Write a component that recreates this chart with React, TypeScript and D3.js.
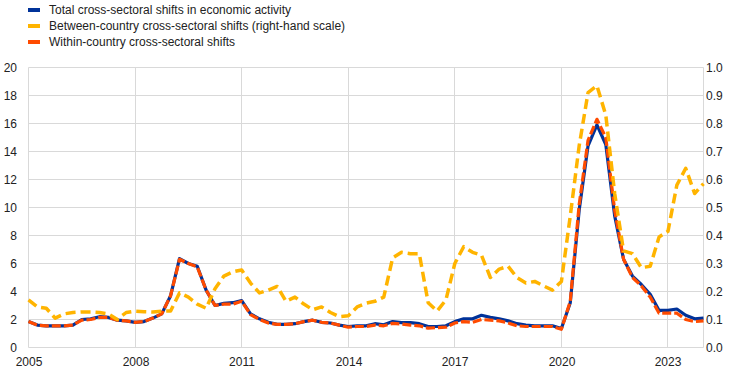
import React from 'react';
import * as d3 from 'd3';

// quarterly observations, 2005 Q1 to 2024 Q1
const startYear = 2005;
const yearTicks = [2005, 2008, 2011, 2014, 2017, 2020, 2023];
const leftTicks = [0, 2, 4, 6, 8, 10, 12, 14, 16, 18, 20];
const rightTicks = [0, 0.1, 0.2, 0.3, 0.4, 0.5, 0.6, 0.7, 0.8, 0.9, 1.0];

const total = [
  1.85, 1.6, 1.55, 1.55, 1.55, 1.6, 2.0, 2.05, 2.2, 2.15,
  1.95, 1.9, 1.8, 1.85, 2.1, 2.4, 3.7, 6.35, 6.0, 5.8,
  4.1, 3.0, 3.15, 3.2, 3.35, 2.4, 2.05, 1.8, 1.65, 1.65,
  1.7, 1.85, 1.95, 1.8, 1.75, 1.6, 1.5, 1.55, 1.55, 1.7,
  1.62, 1.85, 1.78, 1.78, 1.7, 1.5, 1.5, 1.55, 1.85, 2.05,
  2.05, 2.3, 2.15, 2.05, 1.9, 1.7, 1.6, 1.55, 1.55, 1.55,
  1.35, 3.2, 9.8, 14.4, 15.9, 14.5, 9.4, 6.3, 5.1, 4.5,
  3.8, 2.65, 2.65, 2.75, 2.3, 2.05, 2.1,
];

const within = [
  1.85, 1.6, 1.55, 1.55, 1.55, 1.6, 1.95, 2.0, 2.15, 2.15,
  1.95, 1.9, 1.8, 1.85, 2.1, 2.4, 3.7, 6.3, 6.0, 5.75,
  4.1, 3.0, 3.1, 3.1, 3.3, 2.35, 2.0, 1.75, 1.65, 1.65,
  1.7, 1.85, 1.95, 1.8, 1.75, 1.6, 1.45, 1.5, 1.5, 1.6,
  1.55, 1.72, 1.68, 1.6, 1.55, 1.38, 1.42, 1.45, 1.75, 1.85,
  1.8, 2.0, 1.95, 1.9, 1.75, 1.55, 1.5, 1.5, 1.5, 1.5,
  1.3, 3.3, 10.2, 14.8, 16.3, 15.0, 9.8, 6.3, 5.0, 4.4,
  3.6, 2.45, 2.45, 2.45, 2.0, 1.85, 1.9,
];

const between = [
  0.17, 0.145, 0.14, 0.105, 0.12, 0.125, 0.127, 0.127, 0.125, 0.12,
  0.1, 0.125, 0.13, 0.128, 0.127, 0.13, 0.13, 0.195, 0.18, 0.155,
  0.14, 0.21, 0.255, 0.27, 0.277, 0.23, 0.195, 0.205, 0.218, 0.165,
  0.18, 0.155, 0.135, 0.145, 0.125, 0.11, 0.113, 0.145, 0.158, 0.165,
  0.18, 0.32, 0.34, 0.335, 0.335, 0.16, 0.13, 0.17, 0.3, 0.36,
  0.34, 0.33, 0.25, 0.28, 0.29, 0.25, 0.23, 0.236, 0.22, 0.205,
  0.236, 0.47, 0.72, 0.91, 0.935, 0.83, 0.55, 0.345, 0.335, 0.285,
  0.29, 0.395, 0.415, 0.58, 0.64, 0.55, 0.585,
];

const legendItems = [
  { label: 'Total cross-sectoral shifts in economic activity', color: '#003299' },
  { label: 'Between-country cross-sectoral shifts (right-hand scale)', color: '#FFB400' },
  { label: 'Within-country cross-sectoral shifts', color: '#FF4B00' },
];

const W = 745;
const H = 375;
const font = '"Liberation Sans", Arial, sans-serif';

export default function App() {
  const x = d3.scaleLinear().domain([0, total.length - 1]).range([28.5, 703.5]);
  const yL = d3.scaleLinear().domain([0, 20]).range([347.5, 67.5]);
  const yR = d3.scaleLinear().domain([0, 1]).range([347.5, 67.5]);
  const yearX = (yr: number) => Math.round(x((yr - startYear) * 4) - 0.5) + 0.5;

  const lineL = d3.line<number>().x((_, i) => x(i)).y(d => yL(d));
  const lineR = d3.line<number>().x((_, i) => x(i)).y(d => yR(d));

  return (
    <div style={{ position: 'absolute', left: 0, top: 0 }}>
      <svg width={W} height={H} style={{ display: 'block', background: '#fff' }} fontFamily={font}>
        {/* grid */}
        {leftTicks.map(t => (
          <line key={'h' + t} x1={28.5} x2={703.5} y1={yL(t)} y2={yL(t)} stroke="#d9d9d9" strokeWidth={1} />
        ))}
        {yearTicks.map(yr => (
          <line key={'v' + yr} x1={yearX(yr)} x2={yearX(yr)} y1={67.5} y2={347.5} stroke="#d9d9d9" strokeWidth={1} />
        ))}
        <line x1={703.5} x2={703.5} y1={67.5} y2={347.5} stroke="#d9d9d9" strokeWidth={1} />

        {/* axis labels */}
        {leftTicks.map(t => (
          <text key={'l' + t} x={17} y={yL(t)} dy="0.35em" textAnchor="end" fontSize={12} fill="#222">
            {t}
          </text>
        ))}
        {rightTicks.map(t => (
          <text key={'r' + t} x={706} y={yR(t)} dy="0.35em" textAnchor="start" fontSize={12} fill="#222">
            {t.toFixed(1)}
          </text>
        ))}
        {yearTicks.map(yr => (
          <text key={'x' + yr} x={yearX(yr) + 0.5} y={366} textAnchor="middle" fontSize={12} fill="#222">
            {yr}
          </text>
        ))}

        {/* series */}
        <path d={lineL(total) || ''} fill="none" stroke="#003299" strokeWidth={3.2} strokeLinejoin="round" />
        <path d={lineL(within) || ''} fill="none" stroke="#FF4B00" strokeWidth={3.2} strokeDasharray="9,3" strokeLinejoin="round" />
        <path d={lineR(between) || ''} fill="none" stroke="#FFB400" strokeWidth={3.5} strokeDasharray="10,5" strokeLinejoin="round" />

        {/* legend */}
        {legendItems.map((item, i) => (
          <g key={item.label} transform={`translate(28, ${10 + i * 16})`}>
            <rect x={0} y={-2} width={12} height={4} fill={item.color} />
            <text x={21} y={0} dy="0.35em" fontSize={12} fill="#222">
              {item.label}
            </text>
          </g>
        ))}
      </svg>
    </div>
  );
}
